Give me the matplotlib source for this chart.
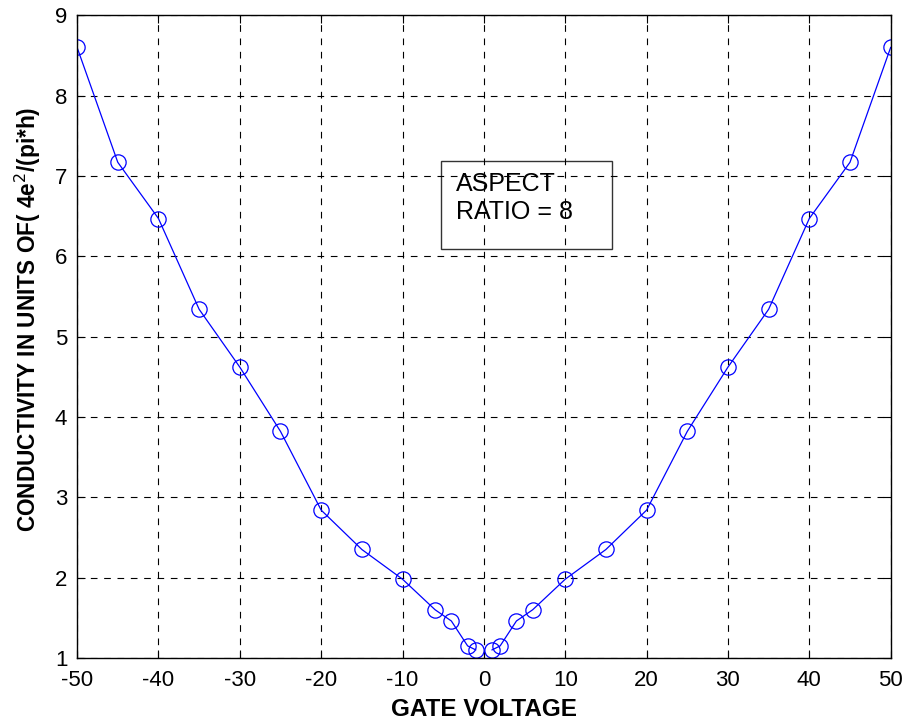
import matplotlib
matplotlib.use("Agg")
import matplotlib.pyplot as plt
from matplotlib.patches import Rectangle

plt.rcParams['font.family'] = ['Liberation Sans', 'DejaVu Sans']
plt.rcParams['axes.unicode_minus'] = False

gate_neg = [-50, -45, -40, -35, -30, -25, -20, -15, -10, -6, -4, -2, -1]
cond_neg = [8.6, 7.17, 6.47, 5.34, 4.62, 3.82, 2.84, 2.35, 1.98, 1.6, 1.46, 1.15, 1.1]
gate_pos = [1, 2, 4, 6, 10, 15, 20, 25, 30, 35, 40, 45, 50]
cond_pos = [1.1, 1.15, 1.46, 1.6, 1.98, 2.35, 2.84, 3.82, 4.62, 5.34, 6.47, 7.17, 8.6]
xticks = [-50, -40, -30, -20, -10, 0, 10, 20, 30, 40, 50]
yticks = [1, 2, 3, 4, 5, 6, 7, 8, 9]

fig = plt.figure(figsize=(9.07, 7.27), dpi=100)
ax = fig.add_axes([0.085, 0.095, 0.897, 0.884])

for gx, cy in ((gate_neg, cond_neg), (gate_pos, cond_pos)):
    ax.plot(gx, cy, color='#0000ff', lw=0.9, marker='o', markersize=11,
            markerfacecolor='none', markeredgecolor='#0000ff', markeredgewidth=0.9)

ax.set_xlim(-50, 50)
ax.set_ylim(1, 9)
ax.set_xticks(xticks)
ax.set_yticks(yticks)
ax.tick_params(direction='in', labelsize=16, length=6, top=True, right=True)
ax.tick_params(axis='x', pad=9)
ax.tick_params(axis='y', pad=7)
ax.grid(True, color='black', linestyle=(0, (6, 6)), linewidth=0.8)
for s in ax.spines.values():
    s.set_linewidth(1.0)

ax.set_xlabel('GATE VOLTAGE', fontsize=17.5, fontweight='bold', labelpad=5)
ax.set_ylabel('CONDUCTIVITY IN UNITS OF( 4e$^2$/(pi*h)', fontsize=16.3,
              fontweight='bold', va='center')
ax.yaxis.set_label_coords(-0.060, 0.527)

ax.text(-3.4, 7.05, 'ASPECT\nRATIO = 8', fontsize=18, va='top', ha='left',
        linespacing=1.2)
ax.add_patch(Rectangle((-5.3, 6.09), 21.0, 1.1, fill=False, ec='#333333', lw=1.0))

fig.savefig('out.png', dpi=100)
